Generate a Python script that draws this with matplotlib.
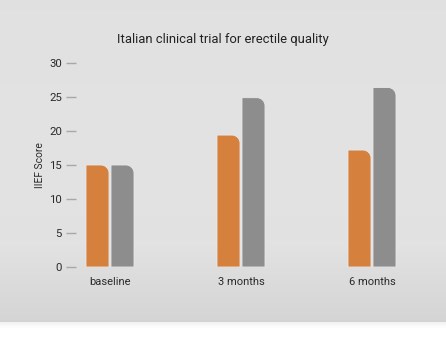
import numpy as np
import matplotlib.pyplot as plt
from matplotlib.path import Path
from matplotlib.patches import PathPatch

groups = ['baseline', '3 months', '6 months']
orange_vals = [15.0, 19.4, 17.2]
gray_vals = [15.0, 24.9, 26.4]
yticks = [0, 5, 10, 15, 20, 25, 30]

plt.rcParams['font.family'] = ['Roboto', 'DejaVu Sans']

W, H = 446, 344
fig = plt.figure(figsize=(W / 100, H / 100), dpi=100)
fig.patch.set_facecolor('white')

# background panel with soft vertical gradient and shadow
bg = fig.add_axes([0, 0, 1, 1], zorder=-10)
bg.set_xlim(0, W)
bg.set_ylim(H, 0)
bg.axis('off')
rows = np.arange(H)
shade = np.where(rows < 240, 226 - 2 * np.abs(rows - 150) / 150,
                 226 - (rows - 240) / 80 * 14) / 255
shade = np.clip(shade, 0, 1)
img = np.repeat(shade[:322, None], 2, axis=1)
bg.imshow(img, cmap='gray', vmin=0, vmax=1, extent=[0, W, 322, 0], aspect='auto')
for i, a in enumerate(np.linspace(0.10, 0.0, 7)):
    bg.fill_between([0, W], 322 + i, 323 + i, color='black', alpha=a * 0.5, lw=0)

# main axes
px_unit = 131
x_left_px, x_right_px = 76, 440
ax = fig.add_axes([x_left_px / W, (H - 267) / H, (x_right_px - x_left_px) / W, 204 / H])
ax.set_facecolor('none')
centers = np.arange(len(groups))
x0 = -(110 - x_left_px) / px_unit
ax.set_xlim(x0, x0 + (x_right_px - x_left_px) / px_unit)
ax.set_ylim(0, 30)

bw = 23 / px_unit
off = 12.5 / px_unit
b1 = ax.bar(centers - off, orange_vals, bw, color='#d5803d')
b2 = ax.bar(centers + off, gray_vals, bw, color='#8d8d8d')

rx = 8 / px_unit
ry = 8 / 6.8
k = 0.5523
for bars in (b1, b2):
    for r in bars:
        xa, w, h = r.get_x(), r.get_width(), r.get_height()
        xb = xa + w
        verts = [(xa, 0), (xa, h), (xb - rx, h),
                 (xb - rx + k * rx, h), (xb, h - ry + k * ry), (xb, h - ry),
                 (xb, 0), (xa, 0)]
        codes = [Path.MOVETO, Path.LINETO, Path.LINETO,
                 Path.CURVE4, Path.CURVE4, Path.CURVE4,
                 Path.LINETO, Path.CLOSEPOLY]
        ax.add_patch(PathPatch(Path(verts, codes), facecolor=r.get_facecolor(),
                               edgecolor='#e9e9e9', lw=0.6))
        r.set_visible(False)

for s in ax.spines.values():
    s.set_visible(False)
ax.set_yticks(yticks)
ax.tick_params(axis='y', length=7.2, width=1, color='#a8a8a8', pad=3,
               labelsize=8.2, labelcolor='#2a2a2a')
ax.set_xticks(centers)
ax.set_xticklabels(groups)
ax.tick_params(axis='x', length=0, pad=7, labelsize=8.0, labelcolor='#2a2a2a')
ax.set_ylabel('IIEF Score', fontsize=7.4, color='#2a2a2a', labelpad=3)

fig.text(223 / W, 1 - 40 / H, 'Italian clinical trial for erectile quality',
         ha='center', va='center', fontsize=9.4, color='#222222')

fig.savefig('out.png', dpi=100)
